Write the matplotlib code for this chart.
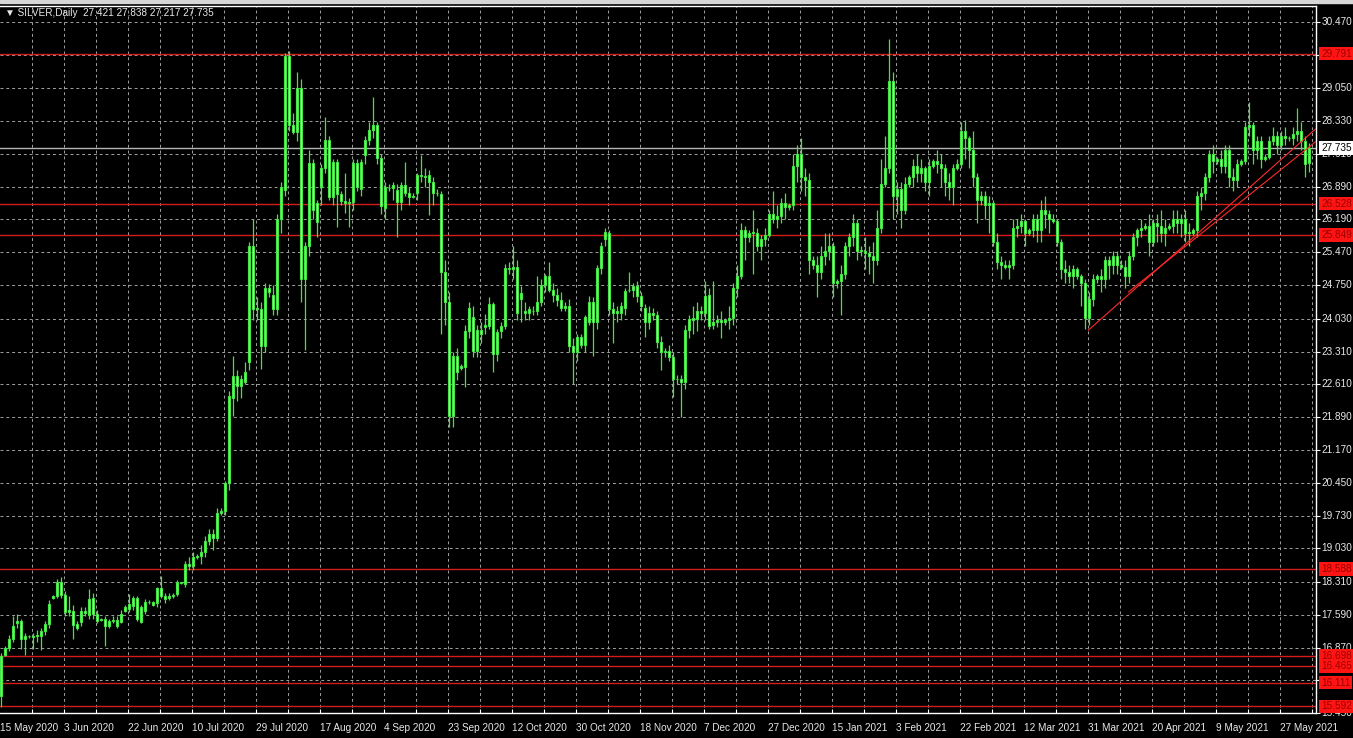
import matplotlib
matplotlib.use("Agg")
import matplotlib.pyplot as plt
from matplotlib.lines import Line2D
from matplotlib.patches import Rectangle
import numpy as np

plt.rcParams['font.family'] = ['Liberation Sans', 'DejaVu Sans']

# SILVER daily bars, 15 May 2020 .. 4 Jun 2021 (broker also prints Sunday bars)
# one line = 16 bars = one date label on the time axis
opens = [
    15.83, 16.72, 16.87, 17.07, 17.40, 17.46, 17.07, 17.12, 17.10, 17.13, 17.13, 17.24, 17.39, 17.96, 18.00, 18.31,
    18.02, 17.65, 17.67, 17.39, 17.44, 17.67, 17.59, 17.96, 17.61, 17.48, 17.50, 17.35, 17.46, 17.35, 17.44, 17.67,
    17.72, 17.78, 17.96, 17.44, 17.67, 17.86, 17.80, 17.85, 18.17, 18.00, 17.95, 18.00, 18.04, 18.28, 18.26, 18.69,
    18.65, 18.85, 18.86, 18.95, 19.20, 19.35, 19.25, 19.80, 19.85, 20.45, 22.30, 22.78, 22.56, 22.64, 23.08, 25.60,
    24.23, 24.23, 23.43, 24.70, 24.55, 24.23, 26.20, 26.83, 29.75, 28.24, 28.09, 29.05, 24.88, 25.60, 27.42, 26.55,
    26.90, 27.31, 27.92, 26.68, 27.44, 26.73, 26.58, 26.55, 26.57, 27.42, 26.85, 27.59, 27.92, 28.14, 28.25, 27.53,
    26.44, 26.88, 26.86, 26.83, 26.57, 26.94, 26.77, 26.68, 26.77, 27.16, 27.14, 27.16, 27.01, 26.77, 26.73, 25.04,
    24.40, 21.91, 23.21, 22.95, 22.97, 23.75, 24.06, 23.32, 23.79, 23.84, 23.86, 24.34, 23.25, 23.75, 23.86, 25.14,
    25.10, 25.16, 24.45, 24.20, 24.15, 24.20, 24.19, 24.38, 24.77, 24.95, 24.66, 24.55, 24.44, 24.27, 24.31, 23.43,
    23.30, 23.62, 23.45, 23.95, 24.38, 23.95, 25.14, 25.75, 25.90, 24.23, 24.16, 24.16, 24.27, 24.64, 24.66, 24.73,
    24.51, 24.27, 23.95, 24.16, 24.10, 23.53, 23.30, 23.32, 23.19, 22.71, 22.71, 22.66, 23.79, 24.00, 24.01, 24.19,
    24.16, 24.55, 23.90, 23.95, 24.00, 23.95, 24.00, 24.05, 24.70, 24.95, 25.95, 25.80, 25.90, 25.90, 25.60, 25.75,
    25.85, 26.30, 26.20, 26.25, 26.55, 26.45, 26.50, 27.35, 27.60, 27.10, 27.05, 25.30, 25.20, 25.05, 25.40, 25.50,
    25.60, 24.80, 24.85, 25.00, 25.60, 25.80, 26.10, 25.50, 25.50, 25.45, 25.40, 25.30, 26.00, 26.95, 27.30, 29.20,
    26.70, 26.85, 26.40, 26.95, 27.10, 27.35, 27.20, 27.30, 27.00, 27.35, 27.45, 27.40, 27.30, 27.00, 26.90, 27.30,
    27.40, 28.10, 27.95, 27.70, 27.10, 26.60, 26.70, 26.50, 26.55, 25.70, 25.25, 25.20, 25.15, 25.20, 26.00, 26.05,
    26.15, 25.90, 25.95, 26.20, 25.95, 26.40, 26.30, 26.20, 26.15, 25.70, 25.10, 25.05, 24.95, 25.10, 24.95, 24.80,
    24.05, 24.45, 24.90, 24.95, 24.90, 25.30, 25.20, 25.40, 25.20, 25.15, 24.95, 25.40, 25.80, 25.95, 26.00, 26.05,
    25.70, 26.10, 26.05, 25.90, 26.00, 26.05, 26.20, 26.10, 26.20, 25.90, 25.90, 25.95, 26.70, 26.75, 27.10, 27.60,
    27.45, 27.50, 27.35, 27.70, 27.10, 27.05, 27.40, 27.45, 28.20, 28.25, 27.70, 27.90, 27.50, 27.55, 27.90, 28.00,
    27.80, 28.00, 27.95, 27.95, 28.05, 28.10, 27.90, 27.421,
]
highs = [
    16.75, 16.90, 17.15, 17.57, 17.60, 17.50, 17.20, 17.15, 17.20, 17.25, 17.30, 17.45, 17.90, 18.02, 18.37, 18.40,
    18.10, 18.00, 17.80, 17.45, 17.75, 17.75, 18.15, 18.05, 17.70, 17.52, 17.55, 17.50, 17.55, 17.55, 17.70, 17.80,
    18.04, 18.00, 18.00, 17.80, 17.92, 17.90, 17.88, 18.20, 18.43, 18.05, 18.05, 18.05, 18.35, 18.31, 18.75, 18.85,
    18.95, 18.90, 19.10, 19.30, 19.45, 19.45, 19.90, 19.90, 20.50, 22.45, 23.21, 22.90, 22.80, 23.08, 25.70, 26.20,
    24.50, 24.40, 24.80, 24.78, 24.75, 26.30, 27.00, 29.80, 29.84, 28.51, 29.40, 29.25, 25.70, 27.70, 27.50, 26.60,
    27.40, 28.42, 28.00, 27.50, 27.50, 26.80, 27.20, 26.65, 27.50, 27.50, 27.50, 28.00, 28.30, 28.85, 28.30, 27.60,
    27.00, 26.95, 27.00, 26.95, 27.00, 27.44, 26.90, 26.75, 27.20, 27.59, 27.30, 27.25, 27.10, 26.85, 26.80, 25.30,
    24.60, 23.30, 23.40, 23.05, 23.90, 24.38, 24.30, 23.90, 23.95, 24.12, 24.50, 24.40, 23.80, 23.95, 25.21, 25.25,
    25.60, 25.30, 24.73, 24.40, 24.30, 24.30, 24.95, 24.90, 25.00, 25.25, 24.80, 24.70, 24.60, 24.40, 24.45, 23.60,
    23.70, 23.70, 24.10, 24.51, 24.50, 25.20, 25.70, 26.00, 25.95, 24.40, 24.30, 24.40, 24.70, 25.04, 24.80, 24.85,
    24.60, 24.35, 24.30, 24.25, 24.20, 23.65, 23.40, 23.45, 23.30, 22.80, 22.80, 23.90, 24.10, 24.30, 24.40, 24.30,
    24.85, 24.70, 24.85, 24.10, 24.20, 24.05, 24.30, 24.80, 25.20, 26.10, 26.05, 25.95, 26.40, 26.00, 25.85, 26.00,
    26.40, 26.80, 26.50, 26.65, 26.75, 26.55, 27.60, 27.80, 27.95, 27.30, 27.20, 25.40, 25.40, 25.60, 25.90, 25.90,
    25.70, 24.90, 25.20, 25.70, 25.90, 26.30, 26.20, 25.60, 25.80, 25.60, 25.70, 26.40, 27.50, 28.00, 30.10, 29.40,
    27.00, 27.00, 27.10, 27.15, 27.50, 27.60, 27.50, 27.35, 27.50, 27.50, 27.70, 27.60, 27.40, 27.20, 27.40, 27.50,
    28.30, 28.35, 28.00, 28.10, 27.20, 26.80, 26.80, 26.70, 26.60, 25.90, 25.40, 25.30, 25.30, 26.20, 26.20, 26.30,
    26.20, 26.00, 26.30, 26.30, 26.60, 26.70, 26.40, 26.30, 26.20, 25.75, 25.30, 25.20, 25.20, 25.15, 25.00, 24.90,
    24.60, 25.00, 25.00, 25.10, 25.40, 25.40, 25.50, 25.50, 25.30, 25.30, 25.50, 25.90, 26.00, 26.20, 26.10, 26.30,
    26.20, 26.30, 26.40, 26.20, 26.10, 26.40, 26.40, 26.30, 26.40, 26.10, 26.00, 26.80, 26.90, 27.20, 27.70, 27.80,
    27.55, 27.70, 27.80, 27.80, 27.30, 27.50, 27.50, 28.30, 28.75, 28.30, 28.00, 28.00, 27.60, 28.00, 28.20, 28.10,
    28.10, 28.20, 28.00, 28.20, 28.60, 28.30, 28.00, 27.838,
]
lows = [
    15.59, 16.70, 16.80, 17.00, 17.30, 16.85, 16.72, 17.08, 16.85, 17.00, 16.82, 17.15, 17.30, 17.93, 17.95, 17.95,
    17.55, 17.55, 17.05, 17.25, 17.35, 17.55, 17.50, 17.50, 17.40, 17.45, 16.91, 17.30, 17.40, 17.30, 17.40, 17.65,
    17.65, 17.70, 17.45, 17.40, 17.60, 17.82, 17.78, 17.75, 17.95, 17.85, 17.90, 17.95, 18.00, 18.25, 18.20, 18.55,
    18.55, 18.80, 18.70, 18.85, 19.10, 19.00, 19.20, 19.75, 19.75, 20.30, 21.90, 22.23, 22.30, 22.60, 22.90, 24.00,
    24.00, 22.93, 23.30, 24.50, 24.10, 24.10, 25.90, 26.70, 28.10, 28.05, 27.90, 24.40, 23.35, 25.40, 26.20, 25.81,
    26.50, 27.20, 26.60, 26.50, 26.03, 26.50, 26.33, 26.03, 26.40, 26.80, 26.70, 27.40, 27.80, 27.95, 27.40, 26.30,
    26.20, 26.80, 26.60, 25.81, 26.40, 26.70, 26.50, 26.65, 26.60, 27.00, 26.90, 26.29, 26.50, 26.70, 23.69, 23.90,
    21.67, 21.67, 22.70, 22.90, 22.53, 23.60, 23.20, 23.20, 23.50, 23.70, 23.80, 22.86, 23.10, 23.60, 23.80, 25.00,
    24.90, 24.00, 23.95, 24.00, 24.00, 24.10, 24.10, 24.30, 24.60, 24.60, 24.40, 24.30, 24.20, 24.20, 23.30, 22.60,
    23.10, 23.40, 23.30, 23.90, 23.21, 23.80, 25.00, 25.60, 24.10, 23.50, 23.95, 24.00, 24.10, 24.60, 24.50, 24.40,
    24.20, 23.62, 23.80, 24.00, 23.40, 22.90, 23.20, 23.10, 22.32, 22.60, 21.89, 22.50, 23.60, 23.70, 23.75, 24.00,
    24.00, 23.80, 23.80, 23.85, 23.60, 23.90, 23.80, 23.90, 24.50, 24.90, 25.30, 25.70, 25.00, 25.50, 25.30, 25.60,
    25.80, 26.10, 26.00, 26.10, 26.20, 26.40, 26.40, 27.00, 26.80, 26.70, 25.00, 25.10, 24.50, 24.90, 25.20, 25.30,
    24.50, 24.70, 24.10, 24.90, 25.40, 25.60, 25.30, 25.40, 25.10, 25.00, 24.80, 25.20, 25.90, 26.90, 27.20, 26.20,
    26.30, 26.00, 26.30, 26.90, 26.90, 27.00, 27.00, 26.80, 26.70, 27.30, 27.20, 26.90, 26.70, 26.60, 26.50, 27.25,
    27.30, 27.50, 27.30, 26.90, 26.10, 26.50, 26.20, 25.90, 25.60, 25.10, 24.90, 25.10, 24.90, 25.10, 25.80, 25.90,
    25.60, 25.85, 25.80, 25.70, 25.70, 26.00, 25.90, 26.10, 25.60, 24.90, 24.80, 24.80, 24.70, 24.90, 24.30, 23.80,
    23.90, 24.30, 24.80, 24.60, 24.70, 24.90, 25.00, 25.00, 25.10, 24.70, 24.80, 25.30, 25.60, 25.80, 25.95, 25.40,
    25.60, 25.70, 25.70, 25.60, 25.95, 25.90, 25.90, 25.80, 25.70, 25.60, 25.85, 25.80, 26.40, 26.60, 27.00, 27.20,
    27.40, 27.20, 27.20, 26.90, 26.80, 26.90, 27.35, 27.40, 28.00, 27.40, 27.50, 27.30, 27.45, 27.50, 27.80, 27.60,
    27.70, 27.80, 27.90, 27.80, 27.90, 27.70, 27.10, 27.217,
]
closes = [
    16.70, 16.87, 17.07, 17.35, 17.46, 17.07, 17.13, 17.13, 17.12, 17.15, 17.24, 17.39, 17.83, 18.00, 18.31, 18.02,
    17.65, 17.68, 17.37, 17.30, 17.67, 17.62, 17.93, 17.61, 17.46, 17.50, 17.35, 17.46, 17.48, 17.48, 17.61, 17.76,
    17.83, 17.96, 17.50, 17.76, 17.87, 17.87, 17.87, 18.17, 18.00, 17.93, 18.00, 18.02, 18.31, 18.28, 18.69, 18.65,
    18.85, 18.86, 18.95, 19.20, 19.35, 19.25, 19.80, 19.85, 20.45, 22.34, 22.78, 22.56, 22.71, 22.86, 25.60, 24.23,
    24.25, 23.43, 24.70, 24.60, 24.23, 26.20, 26.90, 29.75, 28.24, 28.09, 29.05, 24.88, 25.60, 27.42, 26.40, 26.12,
    27.30, 27.92, 26.68, 27.44, 26.73, 26.58, 26.55, 26.57, 27.42, 26.90, 27.44, 27.92, 28.14, 28.25, 27.53, 26.47,
    26.90, 26.86, 26.94, 26.57, 26.94, 26.77, 26.68, 26.70, 27.16, 27.14, 27.10, 27.01, 26.77, 26.75, 25.04, 24.40,
    21.91, 23.21, 22.86, 22.99, 23.75, 24.25, 23.32, 23.79, 23.69, 23.90, 24.34, 23.25, 23.73, 23.86, 25.14, 25.10,
    25.16, 24.16, 24.58, 24.15, 24.23, 24.19, 24.40, 24.77, 24.95, 24.66, 24.55, 24.44, 24.27, 24.31, 23.43, 23.30,
    23.62, 23.45, 24.06, 24.38, 23.95, 25.14, 25.60, 25.92, 24.23, 24.16, 24.20, 24.31, 24.62, 24.66, 24.73, 24.51,
    24.31, 23.95, 24.16, 24.10, 23.53, 23.30, 23.32, 23.19, 22.71, 22.72, 22.66, 23.79, 24.01, 24.04, 24.19, 24.16,
    24.51, 23.86, 23.95, 24.00, 23.95, 24.00, 24.05, 24.70, 24.95, 25.95, 25.80, 25.90, 25.90, 25.60, 25.75, 25.85,
    26.30, 26.20, 26.25, 26.55, 26.45, 26.50, 27.35, 27.60, 27.10, 27.05, 25.30, 25.20, 25.05, 25.40, 25.50, 25.60,
    24.80, 24.85, 25.00, 25.60, 25.80, 26.10, 25.50, 25.50, 25.45, 25.40, 25.30, 26.00, 26.95, 27.30, 29.20, 26.70,
    26.85, 26.40, 26.95, 27.10, 27.35, 27.20, 27.30, 27.00, 27.35, 27.45, 27.40, 27.30, 27.00, 26.90, 27.30, 27.40,
    28.10, 27.95, 27.70, 27.10, 26.60, 26.70, 26.50, 26.55, 25.70, 25.25, 25.20, 25.15, 25.20, 26.00, 26.05, 26.15,
    25.90, 25.95, 26.20, 25.95, 26.40, 26.30, 26.20, 26.15, 25.70, 25.10, 25.05, 24.95, 25.10, 24.95, 24.80, 24.05,
    24.45, 24.90, 24.95, 24.90, 25.30, 25.20, 25.40, 25.20, 25.15, 24.95, 25.40, 25.80, 25.95, 26.00, 26.05, 25.70,
    26.10, 26.05, 25.90, 26.00, 26.05, 26.20, 26.10, 26.20, 25.90, 25.90, 25.95, 26.70, 26.75, 27.10, 27.60, 27.45,
    27.50, 27.35, 27.70, 27.10, 27.05, 27.40, 27.45, 28.20, 28.25, 27.70, 27.90, 27.50, 27.55, 27.90, 28.00, 27.80,
    28.00, 27.95, 27.95, 28.05, 28.10, 27.90, 27.40, 27.735,
]

date_labels = ['15 May 2020', '3 Jun 2020', '22 Jun 2020', '10 Jul 2020', '29 Jul 2020',
               '17 Aug 2020', '4 Sep 2020', '23 Sep 2020', '12 Oct 2020', '30 Oct 2020',
               '18 Nov 2020', '7 Dec 2020', '27 Dec 2020', '15 Jan 2021', '3 Feb 2021',
               '22 Feb 2021', '12 Mar 2021', '31 Mar 2021', '20 Apr 2021', '9 May 2021',
               '27 May 2021']
price_grid = [30.47, 29.76, 29.05, 28.33, 27.61, 26.89, 26.19, 25.47, 24.75, 24.03, 23.31,
              22.61, 21.89, 21.17, 20.45, 19.73, 19.03, 18.31, 17.59, 16.87, 16.16, 15.45]
hidden_ticks = [29.76, 16.16]   # covered by the red line labels
red_levels = [29.791, 26.528, 25.849, 18.588, 16.698, 16.465, 16.111, 15.592]
bid_price = 27.735
trend_a = ([271.75, 329.0], [23.77, 28.18])
trend_b = ([281.75, 329.0], [24.60, 27.90])

assert len(opens) == len(highs) == len(lows) == len(closes)

W, H = 1353, 738
candle_c = '#44e444'
grid_c = '#a0a0a0'
txt_c = '#e8e8e8'

fig = plt.figure(figsize=(W / 100, H / 100), dpi=100, facecolor='black')
ax = fig.add_axes([0, 25 / H, 1316 / W, 707 / H])
ax.set_facecolor('black')

o = np.array(opens)
h = np.array(highs)
l = np.array(lows)
c = np.array(closes)
idx = np.arange(len(c))

ax.set_xlim(-0.25, 328.75)
ax.set_ylim(15.482, 30.828)

# grid
for k in range(1, 42):
    ax.axvline(8 * k - 0.25, color=grid_c, lw=0.7, ls=(0, (3, 3)), zorder=0.5)
for p in price_grid:
    ax.axhline(p, color=grid_c, lw=0.7, ls=(0, (3, 3)), zorder=0.5)

# horizontal levels
for p in red_levels:
    ax.axhline(p, color='#d41c1c', lw=1.0, zorder=1)
ax.axhline(bid_price, color='#b4b4b4', lw=1.0, zorder=1)

# candles
up = c >= o
body_lo = np.minimum(o, c)
body_h = np.maximum(np.abs(c - o), 0.012)
ax.vlines(idx, l, h, color=candle_c, lw=0.9, zorder=3)
ax.bar(idx, body_h, bottom=body_lo, width=0.55,
       color=np.where(up, '#80e880', '#bff5bf'), edgecolor=candle_c,
       linewidth=0.8, zorder=4)

# trend lines
ax.plot(*trend_a, color='#ff2a2a', lw=0.8, zorder=5, solid_capstyle='butt')
ax.plot(*trend_b, color='#ff2a2a', lw=0.8, zorder=5, solid_capstyle='butt')

# frame
for s in ['top', 'left']:
    ax.spines[s].set_visible(False)
for s in ['right', 'bottom']:
    ax.spines[s].set_color('white')
    ax.spines[s].set_linewidth(1.0)

ax.yaxis.tick_right()
ax.set_yticks(price_grid)
ax.set_yticklabels([])
ax.tick_params(axis='y', colors='white', length=3, width=0.8, direction='out')
ax.set_xticks([8 * k - 0.25 for k in range(1, 42)])
ax.set_xticklabels([])
ax.tick_params(axis='x', colors='white', length=3, width=0.8, direction='in')

ytr = ax.get_yaxis_transform()
for p in price_grid:
    if p in hidden_ticks:
        continue
    ax.text(1.004, p, f'{p:.3f}', transform=ytr, color=txt_c, fontsize=7.2,
            va='center', ha='left', clip_on=False)
for p in red_levels:
    ax.text(1.004, p, f'{p:.3f}', transform=ytr, color='#9a0000', fontsize=7.2,
            va='center', ha='left', clip_on=False, zorder=6,
            bbox=dict(boxstyle='square,pad=0.18', fc='#ff1414', ec='none'))
ax.text(1.004, bid_price, f'{bid_price:.3f}', transform=ytr, color='black', fontsize=7.2,
        va='center', ha='left', clip_on=False, zorder=7,
        bbox=dict(boxstyle='square,pad=0.18', fc='white', ec='none'))

xtr = ax.get_xaxis_transform()
for k, lab in enumerate(date_labels):
    ax.text(16 * k - 0.25, -0.0215, lab, transform=xtr, color=txt_c, fontsize=7.2,
            va='center', ha='left', clip_on=False)

# window strip and chart caption
fig.patches.append(Rectangle((0, 1 - 3 / H), 1, 3 / H, transform=fig.transFigure,
                             color='#d6d6d6', zorder=0))
fig.add_artist(Line2D([0, 1316 / W], [1 - 5.5 / H] * 2, color='white', lw=1.0))
fig.text(5 / W, 1 - 13.5 / H, '\u25bc SILVER,Daily  27.421 27.838 27.217 27.735',
         color=txt_c, fontsize=7.2, va='center', ha='left')

fig.savefig('out.png', dpi=100, facecolor='black')
